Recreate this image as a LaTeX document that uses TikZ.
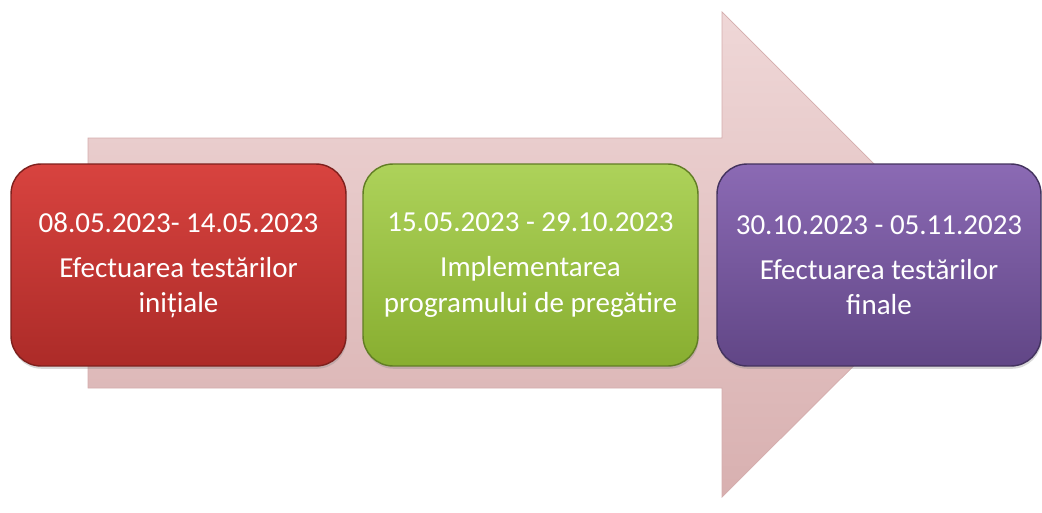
\documentclass[tikz,border=0pt]{standalone}
\usepackage{fontspec}
\setmainfont{Carlito}
\usetikzlibrary{shadows}
\definecolor{arrowtop}{HTML}{EFD7D7}
\definecolor{arrowbot}{HTML}{D8B0B0}
\definecolor{redtop}{HTML}{D8433F}
\definecolor{redbot}{HTML}{AC2B28}
\definecolor{redline}{HTML}{7E201D}
\definecolor{greentop}{HTML}{ADD25A}
\definecolor{greenbot}{HTML}{88AE30}
\definecolor{greenline}{HTML}{617D24}
\definecolor{purpletop}{HTML}{8B6AB4}
\definecolor{purplebot}{HTML}{614686}
\definecolor{purpleline}{HTML}{43325E}
\tikzset{
  phase/.style={rounded corners=0.6cm, minimum width=6.7cm, minimum height=4.04cm,
    text=white, align=center, font=\fontsize{16.5}{20}\selectfont, line width=0.8pt,
    drop shadow={opacity=0.3,shadow xshift=0.4pt,shadow yshift=-1.6pt}}
}
\begin{document}
\begin{tikzpicture}[x=0.02cm,y=0.02cm]
    \useasboundingbox (0,0) rectangle (1042,512);
    % big arrow behind the phases
    \draw[draw=arrowbot!90!black!20!arrowbot, top color=arrowtop, bottom color=arrowbot]
        (88,374) -- (722,374) -- (722,500) -- (965,257) -- (722,15) -- (722,124) -- (88,124) -- cycle;
    % phases
    \node[phase, draw=redline, top color=redtop, bottom color=redbot] (initiale) at (178.5,247)
        {08.05.2023- 14.05.2023\\[5.7pt] Efectuarea testărilor\\ inițiale};
    \node[phase, draw=greenline, top color=greentop, bottom color=greenbot] (program) at (530.5,247)
        {15.05.2023 - 29.10.2023\\[5.7pt] Implementarea\\ programului de pregătire};
    \node[phase, minimum width=6.48cm, draw=purpleline, top color=purpletop, bottom color=purplebot] (finale) at (879,247)
        {30.10.2023 - 05.11.2023\\[5.7pt] Efectuarea testărilor\\ finale};
\end{tikzpicture}
\end{document}
